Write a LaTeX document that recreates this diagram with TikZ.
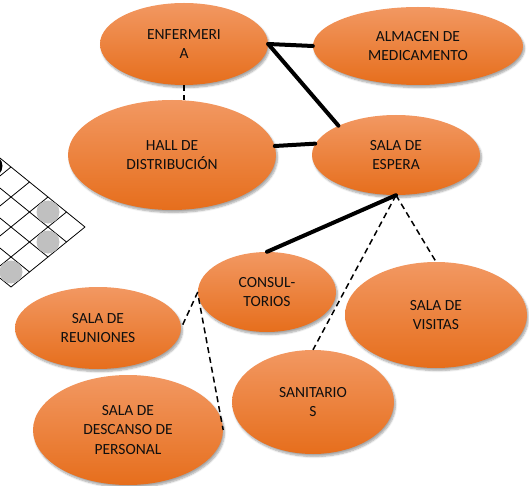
\documentclass[tikz,border=0pt]{standalone}
\usepackage{fontspec}
\setmainfont{Carlito}
\usetikzlibrary{shapes.geometric,shadows.blur}
\definecolor{otop}{RGB}{242,152,98}
\definecolor{obot}{RGB}{230,110,28}
\definecolor{txt}{RGB}{15,15,15}
\definecolor{stone}{RGB}{192,192,192}
\tikzset{
  room/.style={ellipse, inner sep=0pt, top color=otop, bottom color=obot, draw=none,
    blur shadow={shadow xshift=1.5pt, shadow yshift=-2.5pt, shadow blur steps=6, shadow opacity=35},
    font=\fontsize{15.5}{19.5}\selectfont, text=txt, align=center},
  solidlink/.style={line width=4pt, line cap=round},
  dashlink/.style={line width=1.5pt, dash pattern=on 6pt off 4pt},
  gridline/.style={line width=0.8pt, black},
}
\begin{document}
\begin{tikzpicture}[x=1pt,y=-1pt]
\useasboundingbox (0,0) rectangle (529,486);
% board in the corner
\begin{scope}
  \clip (0,0) rectangle (529,486);
  \foreach \i in {0,...,8} {
    \draw[gridline] ({85-18.5*\i},{227-15*\i}) -- ({11-18.5*\i},{287-15*\i});
  }
  \foreach \j in {0,...,4} {
    \draw[gridline] ({85-18.5*\j},{227+15*\j}) -- ({-63-18.5*\j},{107+15*\j});
  }
  \fill[stone] (48,212) circle (11.5);
  \fill[stone] (48,242) circle (11.5);
  \fill[stone] (11,272) circle (11.5);
  \fill[black] (-9,166) circle (11.5);
\end{scope}
% rooms
\node[room, minimum width=168pt, minimum height=82pt] (enf) at (184,44) {ENFERMERI\\A};
\node[room, minimum width=210pt, minimum height=78pt] (alm) at (418,46) {ALMACEN DE\\MEDICAMENTO};
\node[room, minimum width=208pt, minimum height=110pt] (hall) at (172,155) {HALL DE\\DISTRIBUCIÓN};
\node[room, minimum width=168pt, minimum height=80pt] (esp) at (396,155) {SALA DE\\ESPERA};
\node[room, minimum width=138pt, minimum height=80pt] (cons) at (267,292) {CONSUL-\\TORIOS};
\node[room, minimum width=182pt, minimum height=106pt] (vis) at (436,315) {SALA DE\\VISITAS};
\node[room, minimum width=166pt, minimum height=82pt] (reu) at (98,328) {SALA DE\\REUNIONES};
\node[room, minimum width=190pt, minimum height=110pt] (des) at (128,430) {SALA DE\\DESCANSO DE\\PERSONAL};
\node[room, minimum width=162pt, minimum height=104pt] (san) at (313,402) {SANITARIO\\S};
% links
\draw[solidlink] (enf.east) -- (alm.west);
\draw[solidlink] (enf.east) -- (esp.153);
\draw[solidlink] (hall.5) -- (esp.172);
\draw[dashlink] (enf.south) -- (hall.north -| enf.south);
\draw[solidlink] (esp.south) -- (cons.north);
\draw[dashlink] (esp.south) -- (san.north);
\draw[dashlink] (esp.south) -- (vis.north);
\draw[dashlink] (cons.west) -- (reu.east);
\draw[dashlink] (cons.185) -- (des.east);
\end{tikzpicture}
\end{document}
